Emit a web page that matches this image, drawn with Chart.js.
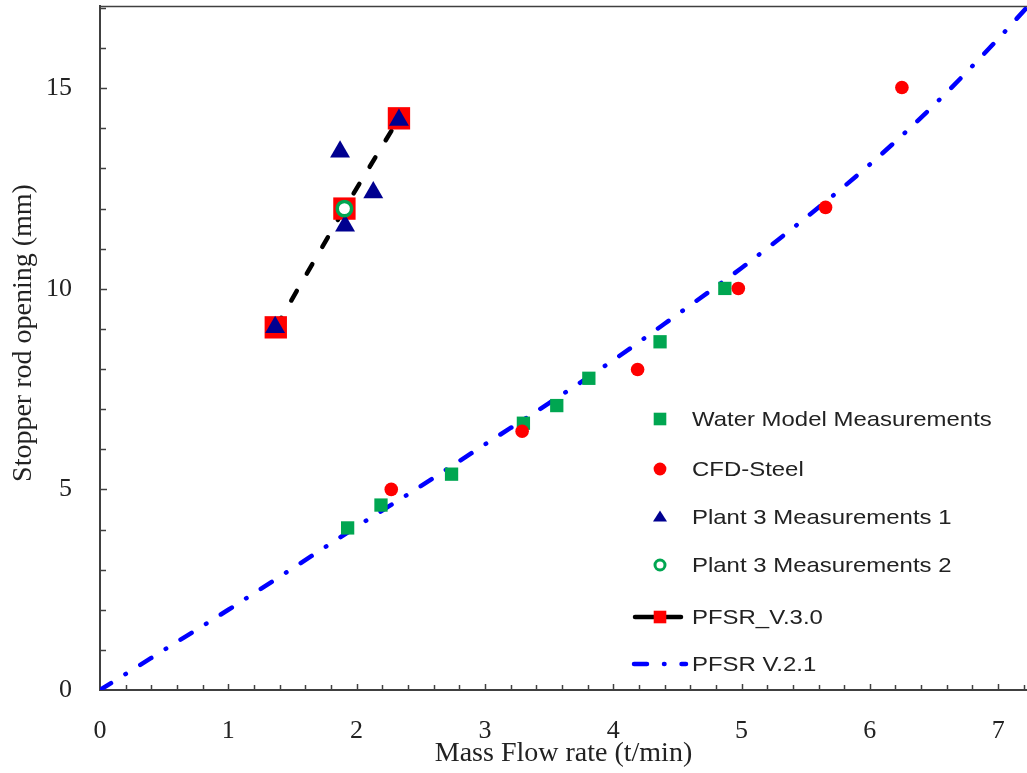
<!DOCTYPE html>
<html>
<head>
<meta charset="utf-8">
<script src="https://cdn.jsdelivr.net/npm/chart.js@4/dist/chart.umd.min.js"></script>
<style>
html,body{margin:0;padding:0;background:#fff;}
#wrap{width:1027px;height:773px;position:relative;}
</style>
</head>
<body>
<div id="wrap"><canvas id="c" width="1027" height="773"></canvas></div>
<script>
// ---- data ----
const seriesNames = ["Water Model Measurements","CFD-Steel","Plant 3 Measurements 1","Plant 3 Measurements 2","PFSR_V.3.0","PFSR V.2.1"];
const xTickValues = [0,1,2,3,4,5,6,7];
const yTickValues = [0,5,10,15];
const xTitle = "Mass Flow rate (t/min)";
const yTitle = "Stopper rod opening (mm)";

const waterX = [1.93, 2.19, 2.74, 3.30, 3.56, 3.81, 4.365, 4.87];
const waterY = [4.04, 4.61, 5.38, 6.65, 7.09, 7.77, 8.68, 10.01];

const cfdX = [2.27, 3.29, 4.19, 4.975, 5.655, 6.25];
const cfdY = [5.00, 6.45, 7.99, 10.01, 12.03, 15.02];

const plant1X = [1.365, 1.871, 1.91, 2.13, 2.33];
const plant1Y = [9.04, 13.42, 11.57, 12.40, 14.21];

const plant2X = [1.905];
const plant2Y = [12.0];

const v30X = [1.37, 1.905, 2.33];
const v30Y = [9.04, 12.0, 14.25];

const v21X = [0, 0.5, 1, 1.5, 2, 2.5, 3, 3.5, 4, 4.5, 5, 5.5, 6, 6.5, 7, 7.22];
const v21Y = [0, 1.0, 2.0, 3.03, 4.07, 5.08, 6.12, 7.15, 8.22, 9.36, 10.52, 11.77, 13.1, 14.58, 16.23, 17.0];

const pts = (xs, ys) => xs.map((x, i) => ({x: x, y: ys[i]}));

// ---- styles ----
const GREEN = '#00a651', RED = '#ff0000', NAVY = '#000090', BLUE = '#0000ff';
const AXIS = '#404040', TXT = '#222';
const SERIF = '"Liberation Serif", "Times New Roman", serif';

const decor = {
  id: 'decor',
  beforeDatasetsDraw(chart) {
    const {ctx, chartArea: a, scales: {x, y}} = chart;
    ctx.save();
    ctx.strokeStyle = AXIS;
    ctx.lineWidth = 1.5;
    ctx.beginPath();
    ctx.moveTo(a.left, a.top + 0.5);
    ctx.lineTo(a.right, a.top + 0.5);
    ctx.stroke();
    const nx = Math.floor(x.max / 0.2 + 1e-6);
    for (let i = 1; i <= nx; i++) {
      const v = i * 0.2;
      const major = Math.abs(v - Math.round(v)) < 1e-6;
      const px = Math.round(x.getPixelForValue(v)) + 0.5;
      ctx.beginPath();
      ctx.moveTo(px, a.bottom);
      ctx.lineTo(px, a.bottom - (major ? 6 : 5));
      ctx.stroke();
    }
    const ny = Math.floor(y.max + 1e-6);
    for (let i = 1; i <= ny; i++) {
      const major = i % 5 === 0;
      const py = Math.round(y.getPixelForValue(i)) + 0.5;
      ctx.beginPath();
      ctx.moveTo(a.left, py);
      ctx.lineTo(a.left + (major ? 7 : 6), py);
      ctx.stroke();
    }
    ctx.restore();
  },
  afterDraw(chart) {
    const ctx = chart.ctx;
    const rows = [419, 469, 517, 565, 617, 664];
    const mx = 660, tx = 692;
    ctx.save();
    // y axis title
    ctx.fillStyle = TXT;
    ctx.font = '28px ' + SERIF;
    ctx.textAlign = 'center';
    ctx.textBaseline = 'middle';
    ctx.save();
    ctx.translate(24, 333);
    ctx.rotate(-Math.PI / 2);
    ctx.fillText(yTitle, 0, 0);
    ctx.restore();
    // legend markers
    ctx.fillStyle = GREEN;
    ctx.fillRect(mx - 6.3, rows[0] - 6.3, 12.6, 12.6);
    ctx.fillStyle = RED;
    ctx.beginPath(); ctx.arc(mx, rows[1], 6.4, 0, Math.PI * 2); ctx.fill();
    ctx.fillStyle = NAVY;
    ctx.beginPath();
    ctx.moveTo(mx, rows[2] - 6.5);
    ctx.lineTo(mx + 7, rows[2] + 4.5);
    ctx.lineTo(mx - 7, rows[2] + 4.5);
    ctx.closePath(); ctx.fill();
    ctx.strokeStyle = GREEN; ctx.lineWidth = 3;
    ctx.fillStyle = '#fff';
    ctx.beginPath(); ctx.arc(mx, rows[3], 5, 0, Math.PI * 2); ctx.fill(); ctx.stroke();
    ctx.strokeStyle = '#000'; ctx.lineWidth = 4.5; ctx.lineCap = 'round';
    ctx.beginPath(); ctx.moveTo(635, rows[4]); ctx.lineTo(681, rows[4]); ctx.stroke();
    ctx.fillStyle = RED;
    ctx.fillRect(mx - 6.3, rows[4] - 6.3, 12.6, 12.6);
    ctx.strokeStyle = BLUE; ctx.lineWidth = 4.5; ctx.lineCap = 'round';
    ctx.setLineDash([13, 17, 0.5, 17]);
    ctx.beginPath(); ctx.moveTo(634, rows[5]); ctx.lineTo(686, rows[5]); ctx.stroke();
    ctx.setLineDash([]);
    // legend labels
    ctx.fillStyle = TXT;
    ctx.font = '21px "Liberation Sans", Arial, sans-serif';
    ctx.textBaseline = 'middle';
    ctx.textAlign = 'left';
    seriesNames.forEach((name, i) => {
      ctx.save();
      ctx.translate(tx, rows[i] + 1);
      ctx.scale(1.14, 1);
      ctx.fillText(name, 0, 0);
      ctx.restore();
    });
    ctx.restore();
  }
};

new Chart(document.getElementById('c'), {
  type: 'scatter',
  data: {
    datasets: [
      {
        label: seriesNames[0], data: pts(waterX, waterY), order: 4,
        pointStyle: 'rect', pointRadius: 9.4, pointBackgroundColor: GREEN, pointBorderWidth: 0, showLine: false
      },
      {
        label: seriesNames[1], data: pts(cfdX, cfdY), order: 3,
        pointStyle: 'circle', pointRadius: 6.8, pointBackgroundColor: RED, pointBorderWidth: 0, showLine: false
      },
      {
        label: seriesNames[2], data: pts(plant1X, plant1Y), order: 2,
        pointStyle: 'triangle', pointRadius: 11.5, pointBackgroundColor: NAVY, pointBorderWidth: 0, showLine: false
      },
      {
        label: seriesNames[3], data: pts(plant2X, plant2Y), order: 1,
        pointStyle: 'circle', pointRadius: 7.2, pointBackgroundColor: '#fff', pointBorderColor: GREEN, pointBorderWidth: 3.5, showLine: false
      },
      {
        label: seriesNames[4], data: pts(v30X, v30Y), order: 5,
        showLine: true, borderColor: '#000', borderWidth: 4.5, borderDash: [11, 20], borderCapStyle: 'round',
        pointStyle: 'rect', pointRadius: 15.8, pointBackgroundColor: RED, pointBorderWidth: 0
      },
      {
        label: seriesNames[5], data: pts(v21X, v21Y), order: 6,
        showLine: true, borderColor: BLUE, borderWidth: 4.5, borderDash: [13, 17, 0.5, 17], borderCapStyle: 'round',
        cubicInterpolationMode: 'monotone', pointRadius: 0
      }
    ]
  },
  options: {
    responsive: false,
    animation: false,
    events: [],
    layout: {autoPadding: false, padding: {top: 6, right: 0, left: 0, bottom: 0}},
    plugins: {legend: {display: false}, tooltip: {enabled: false}},
    scales: {
      x: {
        type: 'linear', min: 0, max: 7.225,
        grid: {display: false},
        border: {display: true, color: AXIS, width: 2},
        afterBuildTicks: s => { s.ticks = xTickValues.map(v => ({value: v})); },
        afterFit: s => { s.height = 83; s.paddingLeft = 0; s.paddingRight = 0; },
        ticks: {padding: 18, color: TXT, font: {family: SERIF, size: 26}, maxRotation: 0},
        title: {display: true, text: xTitle, color: TXT, padding: {top: 0, bottom: 3},
          font: {family: SERIF, size: 28}}
      },
      y: {
        type: 'linear', min: 0, max: 17.05,
        grid: {display: false},
        border: {display: true, color: AXIS, width: 2},
        afterBuildTicks: s => { s.ticks = yTickValues.map(v => ({value: v})); },
        afterFit: s => { s.width = 100; s.paddingTop = 0; s.paddingBottom = 0; },
        ticks: {padding: 20, color: TXT, font: {family: SERIF, size: 26}},
        title: {display: false}
      }
    }
  },
  plugins: [decor]
});
</script>
</body>
</html>
